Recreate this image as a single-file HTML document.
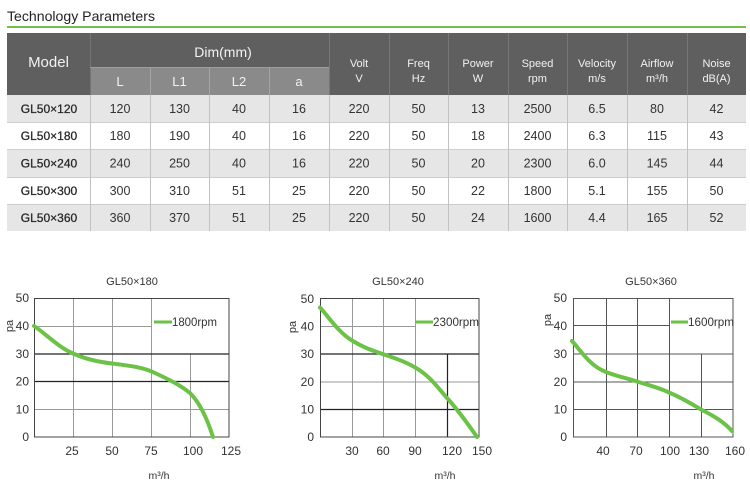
<!DOCTYPE html>
<html>
<head>
<meta charset="utf-8">
<style>
  html,body{margin:0;padding:0;background:#fff;}
  body{width:750px;height:496px;overflow:hidden;}
  svg{display:block;}
  text{font-family:"Liberation Sans", Arial, sans-serif;}
</style>
</head>
<body>
<svg width="750" height="496" viewBox="0 0 750 496" xmlns="http://www.w3.org/2000/svg">
  <!-- Title -->
  <text x="7" y="21" font-size="14" fill="#222" textLength="148" lengthAdjust="spacingAndGlyphs">Technology  Parameters</text>
  <rect x="7" y="26" width="739" height="2" fill="#72c14f"/>

  <!-- Header background -->
  <rect x="7" y="33" width="739" height="62" fill="#5f5f5f"/>
  <rect x="90" y="67" width="239" height="28" fill="#8a8a8a"/>
  <!-- header separators -->
  <g stroke-width="1">
    <line x1="90.5" y1="33" x2="90.5" y2="95" stroke="#747474"/>
    <line x1="90" y1="67.5" x2="329" y2="67.5" stroke="#9c9c9c"/>
    <line x1="150.5" y1="67" x2="150.5" y2="95" stroke="#a4a4a4"/>
    <line x1="209.5" y1="67" x2="209.5" y2="95" stroke="#a4a4a4"/>
    <line x1="269.5" y1="67" x2="269.5" y2="95" stroke="#a4a4a4"/>
    <line x1="329.5" y1="33" x2="329.5" y2="95" stroke="#777"/>
    <line x1="389.5" y1="33" x2="389.5" y2="95" stroke="#777"/>
    <line x1="448.5" y1="33" x2="448.5" y2="95" stroke="#777"/>
    <line x1="508.5" y1="33" x2="508.5" y2="95" stroke="#777"/>
    <line x1="567.5" y1="33" x2="567.5" y2="95" stroke="#777"/>
    <line x1="627.5" y1="33" x2="627.5" y2="95" stroke="#777"/>
    <line x1="687.5" y1="33" x2="687.5" y2="95" stroke="#777"/>
  </g>

  <!-- Header text -->
  <g fill="#f2f2f2" text-anchor="middle">
    <text x="48.5" y="67" font-size="15">Model</text>
    <text x="223" y="57" font-size="14">Dim(mm)</text>
    <text x="120" y="86" font-size="13">L</text>
    <text x="179.5" y="86" font-size="13">L1</text>
    <text x="239" y="86" font-size="13">L2</text>
    <text x="299" y="86" font-size="13">a</text>
    <g font-size="11">
      <text x="359" y="67">Volt</text><text x="359" y="82">V</text>
      <text x="418.5" y="67">Freq</text><text x="418.5" y="82">Hz</text>
      <text x="478" y="67">Power</text><text x="478" y="82">W</text>
      <text x="537.5" y="67">Speed</text><text x="537.5" y="82">rpm</text>
      <text x="597" y="67">Velocity</text><text x="597" y="82">m/s</text>
      <text x="657" y="67">Airflow</text><text x="657" y="82">m³/h</text>
      <text x="716.5" y="67">Noise</text><text x="716.5" y="82">dB(A)</text>
    </g>
  </g>

  <!-- Data rows -->
  <rect x="7" y="95" width="739" height="27" fill="#e6e6e6"/>
  <rect x="7" y="149" width="739" height="28" fill="#e6e6e6"/>
  <rect x="7" y="204" width="739" height="27" fill="#e6e6e6"/>
  <g stroke="#cdcdcd" stroke-width="1">
    <line x1="7" y1="122.5" x2="746" y2="122.5"/>
    <line x1="7" y1="149.5" x2="746" y2="149.5"/>
    <line x1="7" y1="177.5" x2="746" y2="177.5"/>
    <line x1="7" y1="204.5" x2="746" y2="204.5"/>
  </g>
  <g stroke="#c2c2c2" stroke-width="1">
    <line x1="90.5" y1="95" x2="90.5" y2="231"/>
    <line x1="150.5" y1="95" x2="150.5" y2="231"/>
    <line x1="209.5" y1="95" x2="209.5" y2="231"/>
    <line x1="269.5" y1="95" x2="269.5" y2="231"/>
    <line x1="329.5" y1="95" x2="329.5" y2="231"/>
    <line x1="389.5" y1="95" x2="389.5" y2="231"/>
    <line x1="448.5" y1="95" x2="448.5" y2="231"/>
    <line x1="508.5" y1="95" x2="508.5" y2="231"/>
    <line x1="567.5" y1="95" x2="567.5" y2="231"/>
    <line x1="627.5" y1="95" x2="627.5" y2="231"/>
    <line x1="687.5" y1="95" x2="687.5" y2="231"/>
  </g>

  <g fill="#222" stroke="#333" stroke-width="0.3" font-size="12" text-anchor="middle">
    <text x="49" y="113">GL50×120</text>
    <text x="49" y="140">GL50×180</text>
    <text x="49" y="167.5">GL50×240</text>
    <text x="49" y="195">GL50×300</text>
    <text x="49" y="222">GL50×360</text>
  </g>

  <g fill="#333" font-size="12.5" text-anchor="middle">
    <text x="120" y="113">120</text><text x="179.5" y="113">130</text><text x="239" y="113">40</text><text x="299" y="113">16</text>
    <text x="359" y="113">220</text><text x="418.5" y="113">50</text><text x="478" y="113">13</text><text x="537.5" y="113">2500</text>
    <text x="597" y="113">6.5</text><text x="657" y="113">80</text><text x="716.5" y="113">42</text>
    <text x="120" y="140">180</text><text x="179.5" y="140">190</text><text x="239" y="140">40</text><text x="299" y="140">16</text>
    <text x="359" y="140">220</text><text x="418.5" y="140">50</text><text x="478" y="140">18</text><text x="537.5" y="140">2400</text>
    <text x="597" y="140">6.3</text><text x="657" y="140">115</text><text x="716.5" y="140">43</text>
    <text x="120" y="167.5">240</text><text x="179.5" y="167.5">250</text><text x="239" y="167.5">40</text><text x="299" y="167.5">16</text>
    <text x="359" y="167.5">220</text><text x="418.5" y="167.5">50</text><text x="478" y="167.5">20</text><text x="537.5" y="167.5">2300</text>
    <text x="597" y="167.5">6.0</text><text x="657" y="167.5">145</text><text x="716.5" y="167.5">44</text>
    <text x="120" y="195">300</text><text x="179.5" y="195">310</text><text x="239" y="195">51</text><text x="299" y="195">25</text>
    <text x="359" y="195">220</text><text x="418.5" y="195">50</text><text x="478" y="195">22</text><text x="537.5" y="195">1800</text>
    <text x="597" y="195">5.1</text><text x="657" y="195">155</text><text x="716.5" y="195">50</text>
    <text x="120" y="222">360</text><text x="179.5" y="222">370</text><text x="239" y="222">51</text><text x="299" y="222">25</text>
    <text x="359" y="222">220</text><text x="418.5" y="222">50</text><text x="478" y="222">24</text><text x="537.5" y="222">1600</text>
    <text x="597" y="222">4.4</text><text x="657" y="222">165</text><text x="716.5" y="222">52</text>
  </g>

  <!-- ============ CHART 1 ============ -->
  <g>
    <text x="132" y="285" font-size="11" fill="#333" text-anchor="middle">GL50×180</text>
    <g stroke="#9a9a9a" stroke-width="1" fill="none">
      <line x1="73.5" y1="298" x2="73.5" y2="437"/>
      <line x1="112.5" y1="298" x2="112.5" y2="437"/>
      <line x1="151.5" y1="298" x2="151.5" y2="437"/>
      <line x1="190.5" y1="354" x2="190.5" y2="437"/>
      <line x1="34" y1="326.5" x2="151" y2="326.5"/>
      <line x1="34" y1="409.5" x2="229" y2="409.5"/>
    </g>
    <g stroke="#222" stroke-width="1.2">
      <line x1="34" y1="354" x2="229" y2="354"/>
      <line x1="34" y1="381.5" x2="229" y2="381.5"/>
    </g>
    <rect x="34.5" y="298.5" width="194.5" height="138.5" fill="none" stroke="#444" stroke-width="1"/>
    <line x1="154" y1="322" x2="172" y2="322" stroke="#6cc246" stroke-width="3"/>
    <text x="172" y="326" font-size="11.5" fill="#333" textLength="45" lengthAdjust="spacingAndGlyphs">1800rpm</text>
    <path d="M34,326 C45,333 58,347 73,353.5 C88,360 100,362 112,363.5 C128,365.5 143,367 155,373 C170,380 180,385 190,393 C200,403 207,418 213,437" fill="none" stroke="#6cc246" stroke-width="4" stroke-linecap="round"/>
    <g font-size="12" fill="#333" text-anchor="end">
      <text x="29" y="302">50</text>
      <text x="29" y="330">40</text>
      <text x="29" y="358">30</text>
      <text x="29" y="385.5">20</text>
      <text x="29" y="413.5">10</text>
      <text x="29" y="441">0</text>
    </g>
    <text transform="translate(13,326) rotate(-90)" font-size="11" fill="#333" text-anchor="middle">pa</text>
    <g font-size="12" fill="#333" text-anchor="middle">
      <text x="72" y="455">25</text>
      <text x="112" y="455">50</text>
      <text x="151" y="455">75</text>
      <text x="193" y="455">100</text>
      <text x="231" y="455">125</text>
    </g>
    <text x="159" y="479" font-size="10.5" fill="#333" text-anchor="middle">m³/h</text>
  </g>

  <!-- ============ CHART 2 ============ -->
  <g>
    <text x="398" y="285" font-size="11" fill="#333" text-anchor="middle">GL50×240</text>
    <g stroke="#9a9a9a" stroke-width="1" fill="none">
      <line x1="352.5" y1="298.5" x2="352.5" y2="437"/>
      <line x1="383.5" y1="298.5" x2="383.5" y2="437"/>
      <line x1="415.5" y1="298.5" x2="415.5" y2="437"/>
      <line x1="320" y1="326.5" x2="415" y2="326.5"/>
      <line x1="320" y1="382" x2="479" y2="382"/>
    </g>
    <g stroke="#222" stroke-width="1.2">
      <line x1="320" y1="354" x2="479" y2="354"/>
      <line x1="320" y1="409.5" x2="479" y2="409.5"/>
      <line x1="447.5" y1="354" x2="447.5" y2="437"/>
    </g>
    <rect x="320.5" y="298.5" width="158.5" height="138.5" fill="none" stroke="#444" stroke-width="1"/>
    <line x1="416" y1="322" x2="433" y2="322" stroke="#6cc246" stroke-width="3"/>
    <text x="433" y="326" font-size="11.5" fill="#333" textLength="46" lengthAdjust="spacingAndGlyphs">2300rpm</text>
    <path d="M320,307.5 C328,316 338,332 352,340.5 C364,348 374,351 384,354.5 C398,359 408,363 416,368 C430,376 438,388 447,398 C458,410 468,424 477,437" fill="none" stroke="#6cc246" stroke-width="4" stroke-linecap="round"/>
    <g font-size="12" fill="#333" text-anchor="end">
      <text x="314" y="303">50</text>
      <text x="314" y="330.5">40</text>
      <text x="314" y="358">30</text>
      <text x="314" y="386">20</text>
      <text x="314" y="413.5">10</text>
      <text x="314" y="441">0</text>
    </g>
    <text transform="translate(296,327) rotate(-90)" font-size="11" fill="#333" text-anchor="middle">pa</text>
    <g font-size="12" fill="#333" text-anchor="middle">
      <text x="352" y="455">30</text>
      <text x="383" y="455">60</text>
      <text x="415" y="455">90</text>
      <text x="452" y="455">120</text>
      <text x="482" y="455">150</text>
    </g>
    <text x="445" y="479" font-size="10.5" fill="#333" text-anchor="middle">m³/h</text>
  </g>

  <!-- ============ CHART 3 ============ -->
  <g>
    <text x="651" y="285" font-size="11" fill="#333" text-anchor="middle">GL50×360</text>
    <g stroke="#555" stroke-width="1" fill="none">
      <line x1="606.5" y1="298" x2="606.5" y2="437"/>
      <line x1="637.5" y1="298" x2="637.5" y2="437"/>
      <line x1="669.5" y1="298" x2="669.5" y2="437"/>
      <line x1="701.5" y1="354" x2="701.5" y2="437"/>
      <line x1="573" y1="325.5" x2="669" y2="325.5"/>
      <line x1="573" y1="354" x2="733" y2="354"/>
      <line x1="573" y1="382" x2="733" y2="382"/>
      <line x1="573" y1="409.5" x2="733" y2="409.5"/>
    </g>
    <rect x="573.5" y="298.5" width="159.5" height="138.5" fill="none" stroke="#555" stroke-width="1"/>
    <line x1="671" y1="322" x2="688" y2="322" stroke="#6cc246" stroke-width="3"/>
    <text x="688" y="326" font-size="11.5" fill="#333" textLength="46" lengthAdjust="spacingAndGlyphs">1600rpm</text>
    <path d="M572,341 C582,352 590,366 606,372 C616,376 626,378 637,381.5 C648,385 660,388 669,392.5 C682,398 692,404 701,409.5 C714,416 724,422 732,431" fill="none" stroke="#6cc246" stroke-width="4" stroke-linecap="round"/>
    <g font-size="12" fill="#333" text-anchor="end">
      <text x="567" y="302">50</text>
      <text x="567" y="330">40</text>
      <text x="567" y="358">30</text>
      <text x="567" y="386">20</text>
      <text x="567" y="413.5">10</text>
      <text x="567" y="441">0</text>
    </g>
    <text transform="translate(551,320) rotate(-90)" font-size="11" fill="#333" text-anchor="middle">pa</text>
    <g font-size="12" fill="#333" text-anchor="middle">
      <text x="603" y="455">40</text>
      <text x="636" y="455">70</text>
      <text x="670" y="455">100</text>
      <text x="699" y="455">130</text>
      <text x="735" y="455">160</text>
    </g>
    <text x="704" y="479" font-size="10.5" fill="#333" text-anchor="middle">m³/h</text>
  </g>
</svg>
</body>
</html>
